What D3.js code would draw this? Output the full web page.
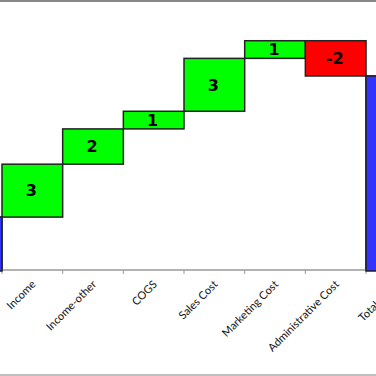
<!DOCTYPE html>
<html>
<head>
<meta charset="utf-8">
<script src="https://cdn.jsdelivr.net/npm/d3@7"></script>
<style>
  html, body { margin: 0; padding: 0; background: #fff; }
  svg { display: block; }
</style>
</head>
<body>
<div id="chart"></div>
<script>
// waterfall data
const categories = ["Start", "Income", "Income-other", "COGS", "Sales Cost", "Marketing Cost", "Administrative Cost", "Total Profit"];
const deltas = [3, 3, 2, 1, 3, 1, -2, null]; // null = total bar
const kinds = ["total", "step", "step", "step", "step", "step", "step", "total"];

const W = 376, H = 376;
const bandW = 60.67;
const axisY = 270;

// build bar extents
let running = 0;
const bars = categories.map((c, i) => {
    if (kinds[i] === "total") {
        if (deltas[i] !== null) running = deltas[i];
        return { cat: c, y0: 0, y1: running, kind: "total", label: null };
    }
    const start = running;
    running += deltas[i];
    return { cat: c, y0: start, y1: running, kind: deltas[i] >= 0 ? "up" : "down", label: deltas[i] };
});

const svg = d3.select("#chart").append("svg")
    .attr("width", W).attr("height", H);

const x = d3.scaleBand().domain(categories)
    .range([2 - bandW, 2 + (categories.length - 1) * bandW]).padding(0);
const y = d3.scaleLinear().domain([0, 11]).range([axisY, 76]);

const fill = { up: "#00ff00", down: "#ff0000", total: "#3333ff" };

// bars
svg.selectAll("rect.bar").data(bars).enter().append("rect")
    .attr("class", "bar")
    .attr("x", d => x(d.cat))
    .attr("width", x.bandwidth())
    .attr("y", d => y(Math.max(d.y0, d.y1)))
    .attr("height", d => Math.abs(y(d.y0) - y(d.y1)))
    .attr("fill", d => fill[d.kind])
    .attr("stroke", "#222")
    .attr("stroke-width", 1.5);

// value labels
svg.selectAll("text.val").data(bars.filter(d => d.label !== null)).enter().append("text")
    .attr("class", "val")
    .attr("x", d => x(d.cat) + x.bandwidth() / 2 - 1)
    .attr("y", d => (y(d.y0) + y(d.y1)) / 2)
    .attr("dy", "0.36em")
    .attr("text-anchor", "middle")
    .style("font-family", "DejaVu Sans, sans-serif")
    .style("font-weight", "bold")
    .style("font-size", "16px")
    .attr("fill", "#000")
    .text(d => d.label);

// x axis
const axis = svg.append("g").attr("transform", `translate(0,${axisY})`);
axis.append("line").attr("x1", 0).attr("x2", W).attr("y1", 0).attr("y2", 0)
    .attr("stroke", "#999").attr("stroke-width", 1.5);
axis.selectAll("line.tick").data(categories).enter().append("line")
    .attr("class", "tick")
    .attr("x1", d => x(d) + x.bandwidth()).attr("x2", d => x(d) + x.bandwidth())
    .attr("y1", 0).attr("y2", 4)
    .attr("stroke", "#999").attr("stroke-width", 1);
axis.selectAll("text").data(categories).enter().append("text")
    .attr("transform", d => `translate(${x(d) + x.bandwidth() / 2 + 4},${15}) rotate(-45)`)
    .attr("text-anchor", "end")
    .style("font-family", "Lato, sans-serif")
    .style("font-size", "11px")
    .attr("fill", "#111")
    .text(d => d);

// redraw total bars over the axis line
svg.selectAll("rect.over").data(bars.filter(d => d.kind === "total")).enter().append("rect")
    .attr("x", d => x(d.cat))
    .attr("width", x.bandwidth())
    .attr("y", d => y(d.y1))
    .attr("height", d => y(0) - y(d.y1) + 1)
    .attr("fill", fill.total)
    .attr("stroke", "#222")
    .attr("stroke-width", 1.5);

// chart frame
svg.append("line").attr("x1", 0).attr("x2", W).attr("y1", 1).attr("y2", 1)
    .attr("stroke", "#888").attr("stroke-width", 2);
svg.append("line").attr("x1", 0).attr("x2", W).attr("y1", 375).attr("y2", 375)
    .attr("stroke", "#aaa").attr("stroke-width", 1.5);
</script>
</body>
</html>
